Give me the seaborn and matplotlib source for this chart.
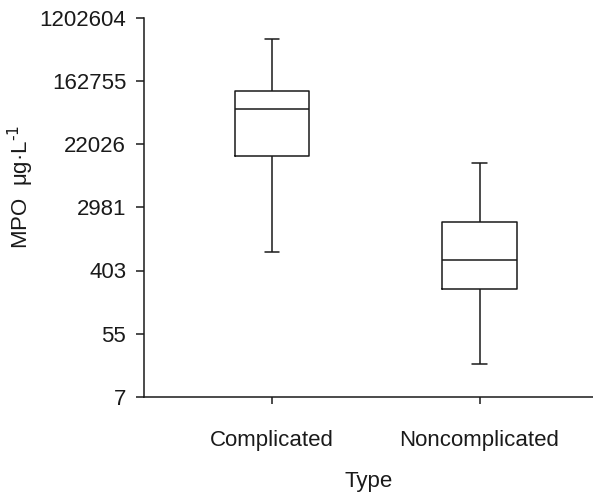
import numpy as np
import pandas as pd
import matplotlib
matplotlib.use("Agg")
import matplotlib.pyplot as plt
import seaborn as sns

# Data (natural-log units; values = e^x)
categories = ["Complicated", "Noncomplicated"]
complicated_ln = [6.59, 9.62, 11.11, 11.68, 13.32]      # min, Q1, median, Q3, max
noncomplicated_ln = [3.03, 5.42, 6.33, 7.54, 9.40]
tick_exponents = [2, 4, 6, 8, 10, 12, 14]
tick_labels = ["7", "55", "403", "2981", "22026", "162755", "1202604"]

df = pd.DataFrame({
    "Type": [categories[0]] * len(complicated_ln) + [categories[1]] * len(noncomplicated_ln),
    "MPO": np.exp(np.array(complicated_ln + noncomplicated_ln)),
})

sns.set_style("ticks")
plt.rcParams["font.family"] = ["Liberation Sans", "DejaVu Sans"]

fig = plt.figure(figsize=(5.93, 4.95), dpi=100)
ax = fig.add_axes([144 / 593, 1 - 397 / 495, 1 - 144 / 593, (397 - 17.5) / 495])

lw = 1.1
ink = "#1a1a1a"
sns.boxplot(
    data=df, x="Type", y="MPO", ax=ax, order=categories,
    whis=np.inf, width=0.36, fill=False, color=ink,
    linewidth=lw, log_scale=(False, np.e), showfliers=False,
)
# narrow caps
for line in ax.lines:
    xd = np.asarray(line.get_xdata(), dtype=float)
    yd = np.asarray(line.get_ydata(), dtype=float)
    if len(xd) == 2 and yd[0] == yd[1]:
        span = abs(xd[1] - xd[0])
        if 0 < span < 0.3:
            c = xd.mean()
            line.set_xdata([c - 0.035, c + 0.035])

ax.set_ylim(np.exp(2), np.exp(14))
ax.set_xlim(-0.617, 1.547)
ax.set_yticks([np.exp(e) for e in tick_exponents])
ax.set_yticklabels(tick_labels)
ax.yaxis.set_minor_locator(matplotlib.ticker.NullLocator())

for s in ["top", "right"]:
    ax.spines[s].set_visible(False)
for s in ["left", "bottom"]:
    ax.spines[s].set_linewidth(lw)
    ax.spines[s].set_color(ink)

fs = 16
ax.tick_params(axis="y", length=5.8, width=lw, pad=7, labelsize=fs, colors=ink)
ax.tick_params(axis="x", length=5, width=lw, pad=19, labelsize=fs, colors=ink)

ax.set_xlabel("Type", fontsize=fs, labelpad=14, color=ink)
ax.set_ylabel("MPO  μg·L$^{\\text{-1}}$", fontsize=16, color=ink)
ax.yaxis.set_label_coords(-0.24, 0.553)

fig.savefig("out.png", dpi=100, facecolor="white")
